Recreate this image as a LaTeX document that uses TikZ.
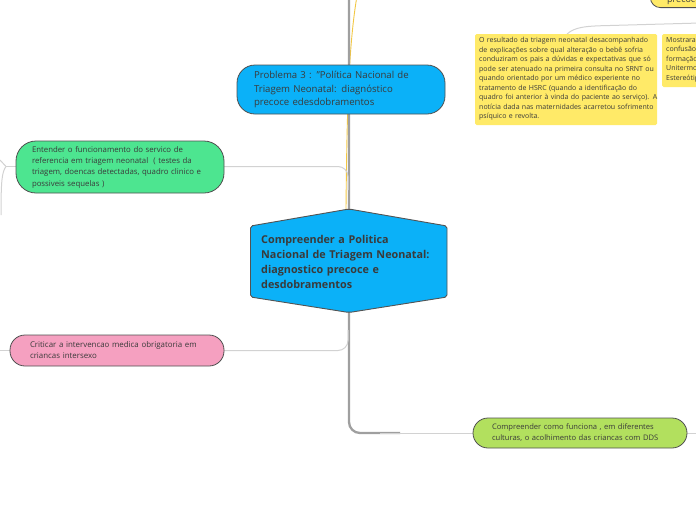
\documentclass[tikz,border=0pt]{standalone}
\usepackage{fontspec}
\setmainfont{Open Sans}
\definecolor{nodeblue}{HTML}{0BB1F8}
\definecolor{nodegreen}{HTML}{4DE590}
\definecolor{nodepink}{HTML}{F5A0C0}
\definecolor{nodelime}{HTML}{B2E05E}
\definecolor{noteyellow}{HTML}{FFEA68}
\definecolor{txt}{HTML}{3A3A3A}
\definecolor{edge}{HTML}{505050}
\definecolor{yline}{HTML}{F2C744}
\tikzset{
  pill/.style={draw=edge, line width=0.8pt, align=left, text=txt, anchor=center},
  notefill/.style={fill=noteyellow, rounded corners=1.5pt},
  notetext/.style={align=left, text=txt, inner sep=0pt, anchor=north west, text width=220pt, font=\fontsize{7.0}{9.5}\selectfont},
  conn/.style={draw=gray!35, line width=1pt},
  trunk/.style={draw=gray!75, line width=2.3pt},
}
\begin{document}
\begin{tikzpicture}[x=1pt,y=-1pt]
\useasboundingbox (0,0) rectangle (696,520);
\clip (0,0) rectangle (696,520);
% top-right yellow node (cut off)
\node[draw=edge, line width=0.8pt, fill=noteyellow, rounded corners=10pt, minimum width=120pt, minimum height=40pt, anchor=south west, inner sep=0pt] (topnode) at (650,8) {};
\node[text=txt, font=\fontsize{9}{12}\selectfont, anchor=base west, inner sep=0pt] (toptext) at (667,2) {precoce};
% connectors
\draw[yline, line width=0.9pt] (346,209) .. controls (347,100) and (349,40) .. (358,-10);
\draw[trunk, rounded corners=11pt] (349,-5) -- (349,433) -- (400,433);
\draw[conn] (380,433) -- (473,433);
\draw[conn, rounded corners=10pt] (224,166.5) -- (348,166.5) -- (348,190);
\draw[conn, rounded corners=10pt] (224,350.5) -- (348,350.5) -- (348,330);
\draw[conn] (16,166.5) -- (6,166.5);
\draw[conn] (6,166.5) -- (0,160);
\draw[conn] (6,166.5) .. controls (2,172) and (1,180) .. (1,215);
\draw[conn] (10,350.5) -- (0,350.5);
\draw[conn] (687,433) -- (700,433);
\draw[conn] (567,34) .. controls (575,27) and (585,26) .. (610,25.5) -- (700,23);
% Problem 3 node
\node[pill, fill=nodeblue, rounded corners=18pt, minimum width=208pt, minimum height=49pt, text width=174pt, inner xsep=17pt, inner ysep=0pt,
  font=\fontsize{9.6}{13.5}\selectfont] (prob) at (341,89.5)
  {Problema 3 : "Política Nacional de\\Triagem Neonatal: diagnóstico\\precoce edesdobramentos};
% central hexagon
\draw[draw=gray!65!black, line width=0.9pt, fill=nodeblue, rounded corners=2pt]
  (250.5,226) -- (349,209) -- (447,226) -- (447,297) -- (349,312.5) -- (250.5,297) -- cycle;
\node[text=txt, align=left, anchor=west, inner sep=0pt, text width=185pt,
  font=\bfseries\fontsize{10.8}{15}\selectfont] (central) at (261,261.5)
  {Compreender a Politica\\Nacional de Triagem Neonatal:\\diagnostico precoce e\\desdobramentos};
% green node
\node[pill, fill=nodegreen, rounded corners=20pt, minimum width=208pt, minimum height=52pt, text width=176pt, inner xsep=16pt, inner ysep=0pt,
  font=\fontsize{7.8}{11.3}\selectfont] (green) at (120,167)
  {Entender o funcionamento do servico de\\referencia em triagem neonatal \ ( testes da\\triagem, doencas detectadas, quadro clinico e\\possiveis sequelas )};
% pink node
\node[pill, fill=nodepink, rounded corners=15pt, minimum width=214pt, minimum height=31pt, text width=174pt, inner xsep=20pt, inner ysep=0pt,
  font=\fontsize{7.9}{11}\selectfont] (pink) at (117,350.5)
  {Criticar a intervencao medica obrigatoria em\\criancas intersexo};
% lime node
\node[pill, fill=nodelime, rounded corners=15pt, minimum width=214pt, minimum height=30pt, text width=176pt, inner xsep=19pt, inner ysep=0pt,
  font=\fontsize{7.6}{11}\selectfont] (lime) at (580,433)
  {Compreender como funciona , em diferentes\\culturas, o acolhimento das criancas com DDS};
% yellow notes
\fill[notefill] (475,34) rectangle (657,125);
\fill[notefill] (662,34) rectangle (710,87);
\node[notetext] (note1) at (479,37)
  {O resultado da triagem neonatal desacompanhado\\de explicações sobre qual alteração o bebê sofria\\conduziram os pais a dúvidas e expectativas que só\\pode ser atenuado na primeira consulta no SRNT ou\\quando orientado por um médico experiente no\\tratamento de HSRC (quando a identificação do\\quadro foi anterior à vinda do paciente ao serviço). A\\notícia dada nas maternidades acarretou sofrimento\\psíquico e revolta.};
\node[notetext] (note2) at (666,37)
  {Mostraram\\confusão\\formação\\Unitermo\\Estereótipo};
\end{tikzpicture}
\end{document}
